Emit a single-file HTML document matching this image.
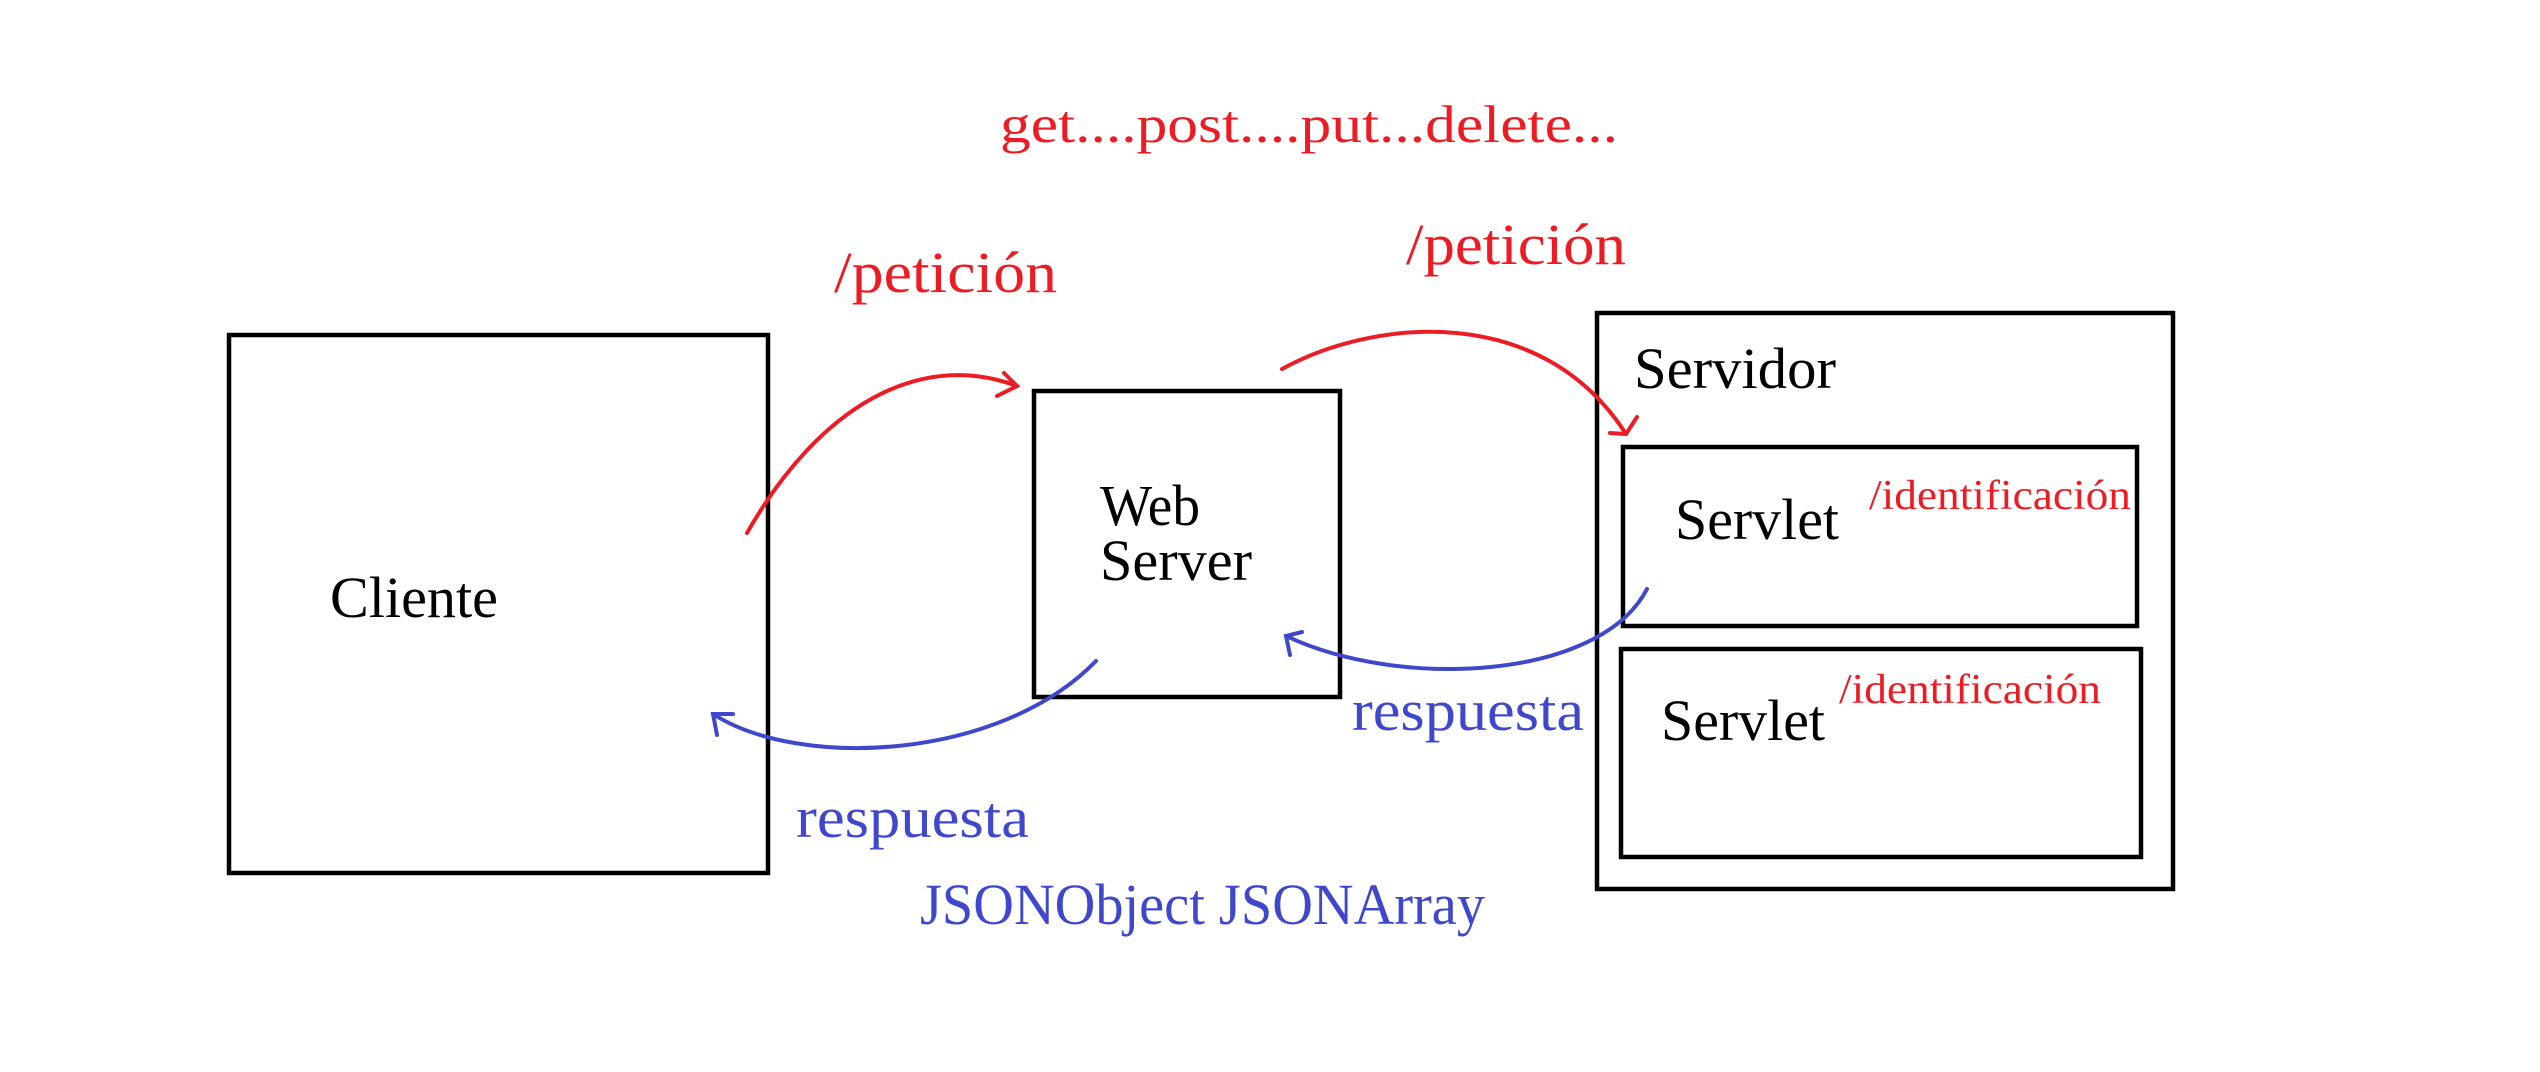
<!DOCTYPE html>
<html><head><meta charset="utf-8"><style>
html,body{margin:0;padding:0;background:#fff;}
svg{display:block;}
text{font-family:"Liberation Serif","DejaVu Serif",serif;}
</style></head><body>
<svg width="2540" height="1072" viewBox="0 0 2540 1072" xmlns="http://www.w3.org/2000/svg">
<rect width="2540" height="1072" fill="#fff"/>
<g fill="none" stroke="#000" stroke-width="4.5">
<rect x="229" y="335" width="539" height="538"/>
<rect x="1034" y="391" width="306" height="306"/>
<rect x="1597" y="313" width="576" height="576"/>
<rect x="1623" y="447" width="514" height="179"/>
<rect x="1621" y="649" width="520" height="208"/>
</g>
<g fill="none" stroke="#ed1c24" stroke-width="4" stroke-linecap="round">
<path d="M747,533 C820,405 920,350 1017,386"/>
<path d="M1004,373 L1017,386 L997,396"/>
<path d="M1282,369 C1370,320 1540,300 1626,434"/>
<path d="M1637,417 L1626,434 L1610,433"/>
</g>
<g fill="none" stroke="#3f48cc" stroke-width="4" stroke-linecap="round">
<path d="M1096,661 C1000,760 800,770 713,714"/>
<path d="M717,735 L713,714 L733,714"/>
<path d="M1647,589 C1600,680 1400,690 1286,636"/>
<path d="M1290,655 L1286,636 L1302,632"/>
</g>
<g fill="#000" font-size="58">
<text x="330" y="617" textLength="168" lengthAdjust="spacingAndGlyphs">Cliente</text>
<text x="1100" y="525" textLength="100" lengthAdjust="spacingAndGlyphs">Web</text>
<text x="1100" y="580" textLength="152" lengthAdjust="spacingAndGlyphs">Server</text>
<text x="1634" y="388" textLength="202" lengthAdjust="spacingAndGlyphs">Servidor</text>
<text x="1675" y="539" textLength="164" lengthAdjust="spacingAndGlyphs">Servlet</text>
<text x="1661" y="740" textLength="164" lengthAdjust="spacingAndGlyphs">Servlet</text>
</g>
<g fill="#ed1c24">
<text x="1000" y="142" font-size="53" textLength="618" lengthAdjust="spacingAndGlyphs">get....post....put...delete...</text>
<text x="834" y="292" font-size="58" textLength="223" lengthAdjust="spacingAndGlyphs">/petición</text>
<text x="1406" y="264" font-size="58" textLength="220" lengthAdjust="spacingAndGlyphs">/petición</text>
<text x="1869" y="509" font-size="42" textLength="262" lengthAdjust="spacingAndGlyphs">/identificación</text>
<text x="1839" y="703" font-size="42" textLength="262" lengthAdjust="spacingAndGlyphs">/identificación</text>
</g>
<g fill="#3f48cc" font-size="58">
<text x="796" y="837" textLength="233" lengthAdjust="spacingAndGlyphs">respuesta</text>
<text x="1352" y="730" textLength="232" lengthAdjust="spacingAndGlyphs">respuesta</text>
<text x="920" y="924" textLength="565" lengthAdjust="spacingAndGlyphs">JSONObject  JSONArray</text>
</g>
</svg>
</body></html>
